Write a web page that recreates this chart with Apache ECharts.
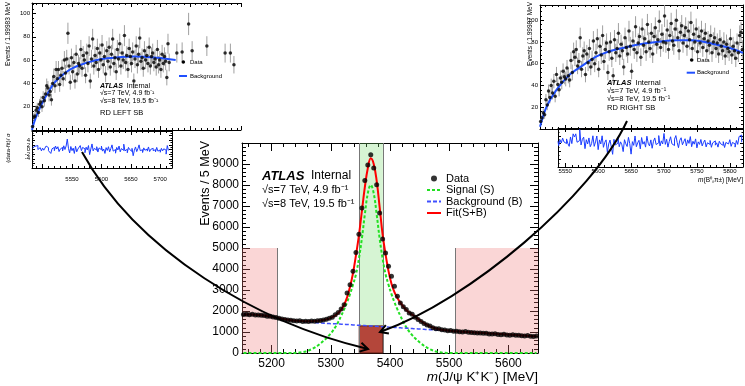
<!DOCTYPE html>
<html>
<head>
<meta charset="utf-8">
<script src="https://cdn.jsdelivr.net/npm/echarts@6.0.0/dist/echarts.min.js"></script>
<style>
html, body { margin: 0; padding: 0; background: #fff; }
#main { width: 745px; height: 386px; }
</style>
</head>
<body>
<div id="main"></div>
<script>
// ---- main fit, m(J/psi K+K-), 5 MeV bins ----
var massBinStart = 5152.5;
var massBinWidth = 5;
var massData = [
    1838, 1850, 1826, 1840, 1815, 1805, 1800, 1785, 1755, 1745, 1710, 1690,
    1650, 1625, 1600, 1575, 1560, 1530, 1520, 1535, 1505, 1515,
    1495, 1520, 1510, 1530, 1545, 1575, 1610, 1650, 1700, 1820,
    1930, 2090, 2300, 2860, 3250, 3890, 4790, 5650, 6900, 8220,
    8950, 9440, 8810, 8014, 6667, 5430, 4760, 4127, 3650, 3175,
    2700, 2380, 2200, 2070, 1910, 1840, 1700, 1590, 1500, 1410,
    1330, 1290, 1200, 1160, 1150, 1110, 1090, 1060, 1070, 1040,
    1030, 1010, 1000, 1020, 985, 980, 970, 950, 955, 935,
    940, 910, 900, 920, 880, 870, 895, 860, 850, 870,
    840, 845, 820, 815, 830, 800, 790, 810
];
var massFit = [
    1840, 1838, 1834, 1828, 1820, 1810, 1797, 1781, 1762, 1740, 1715, 1688, 1660,
    1632, 1605, 1582, 1562, 1545, 1533, 1525, 1519, 1515, 1513, 1515, 1520, 1530,
    1545, 1568, 1600, 1645, 1705, 1790, 1905, 2060, 2300, 2650, 3150, 3800, 4650,
    5600, 6750, 7900, 8800, 9270, 9000, 8200, 6950, 5650, 4700, 3900, 3300, 2900,
    2620, 2400, 2210, 2050, 1930, 1830, 1730, 1620, 1510, 1420, 1340, 1270, 1215,
    1170, 1135, 1108, 1088, 1072, 1056,
    1040, 1031, 1022, 1013, 1005, 996, 987, 978, 969, 961, 952, 943, 934, 925, 917,
    908, 899, 890, 881, 873, 864, 855, 846, 837, 829, 820, 811, 802, 793
];
var massSignal = [
    0, 0, 0, 0, 0, 0, 0, 0, 0, 0, 0, 0, 0, 0, 0, 0, 0,
    4, 10, 22, 42, 75, 120, 180, 255, 345, 450, 570, 700, 850, 1020, 1230, 1480,
    1770, 2080, 2420, 2800, 3250, 3750, 4500, 5450, 6600, 7600,
    8000,
    7600, 6600, 5450, 4500, 3750, 3250, 2800, 2420, 2080, 1770, 1480, 1230, 1020,
    850, 700, 570, 450, 345, 255, 180, 120, 75, 42, 22, 10, 4,
    0, 0, 0, 0, 0, 0, 0, 0, 0, 0, 0, 0, 0, 0, 0, 0, 0, 0, 0, 0, 0, 0, 0, 0, 0, 0, 0, 0, 0, 0
];
var massBkg = [
    1840, 1838, 1834, 1828, 1820, 1810, 1797, 1781, 1762, 1740, 1715, 1688, 1660,
    1632, 1605, 1580, 1557, 1537, 1520, 1505, 1492, 1480, 1469, 1459, 1449, 1439,
    1429, 1419, 1410, 1401, 1396,
    1392, 1383, 1374, 1366, 1357, 1348, 1339, 1330, 1321, 1313,
    1304, 1295, 1286, 1277, 1269, 1260, 1251, 1242, 1233, 1225,
    1216, 1207, 1198, 1189, 1181, 1172, 1163, 1154, 1145, 1137,
    1128, 1119, 1110, 1101, 1093, 1084, 1075, 1066, 1057, 1049,
    1040, 1031, 1022, 1013, 1005, 996, 987, 978, 969, 961,
    952, 943, 934, 925, 917, 908, 899, 890, 881, 873,
    864, 855, 846, 837, 829, 820, 811, 802, 793
];

// sideband and signal windows
var leftSB = [5150, 5210];
var rightSB = [5510, 5650];
var sbHeight = 5000;
var sigWindow = [5348, 5388];
var sigWindowBkg = 1290;

// ---- left sideband inset, 2 MeV bins ----
var leftBinStart = 5483;
var leftBinWidth = 2;
var leftData = [
    3, 11, 12, 17, 19, 15, 22, 24, 20, 28,
    25, 31, 38, 36, 30, 33, 26, 40, 46, 38,
    52, 44, 52, 39, 47, 53, 44, 60, 49, 61,
    83, 55, 41, 62, 50, 58, 42, 65, 48, 57,
    55, 69, 53, 64, 60, 47, 66, 57, 72, 42,
    61, 78, 55, 64, 58, 70, 52, 66, 60, 73,
    56, 63, 48, 68, 59, 71, 54, 65, 78, 57,
    62, 50, 69, 61, 74, 55, 66, 60, 81, 58,
    64, 52, 70, 63, 57, 67, 42, 61, 72, 56,
    65, 79, 59, 62, 53, 68, 60, 64, 57, 71,
    55, 63, 66, 58, 61, 54, 69, 56, 60, 52,
    65, 57, 63, 59, 45, 74, 58
];
var leftResid = [
    0.7, 1.2, 1.4, 1.8, 1.7, 0, 0.8, 0.8, -0.6, 0.6,
    -0.3, 0.6, 1.5, 0.8, -0.5, -0.3, -1.7, 0.3, 0.9, -0.5,
    1.5, 0.2, 1.2, -0.9, 0.2, 0.9, -0.6, 1.6, 0, 1.5,
    4.5, 0.5, -1.5, 1.3, -0.5, 0.6, -1.7, 1.4, -1.0, 0.2,
    -0.1, 1.7, -0.5, 0.9, 0.3, -1.4, 1.0, -0.2, 1.7, -2.2,
    0.2, 2.4, -0.6, 0.5, -0.3, 1.2, -1.1, 0.7, -0.1, 1.5,
    -0.7, 0.2, -1.7, 0.8, -0.4, 1.2, -1.0, 0.4, 2.0, -0.7,
    0, -1.6, 0.9, -0.2, 1.5, -1.0, 0.4, -0.4, 2.3, -0.6,
    0.1, -1.4, 0.9, 0, -0.8, 0.5, -2.7, -0.3, 1.1, -0.9,
    0.3, 2.0, -0.5, -0.1, -1.3, 0.7, -0.3, 0.2, -0.7, 1.1,
    -0.9, 0.1, 0.5, -0.5, -0.1, -1.0, 0.9, -0.7, -0.2, -1.2,
    0.5, -0.6, 0.3, -0.3, -2.0, 1.7, -0.4
];
var leftExtraX = [5728, 5737, 5748, 5754, 5779, 5810, 5819, 5825];
var leftExtraY = [66, 67, 91, 68, 72, 66, 66, 56];
var leftBkgX = [5482, 5484, 5488, 5495, 5502, 5510, 5519, 5530, 5541, 5552, 5564, 5580, 5598, 5625, 5655, 5694, 5726];
var leftBkgY = [0, 4, 10, 18.5, 25.8, 32.5, 40, 45.5, 50, 53.3, 55.8, 58.5, 60.7, 62.2, 63, 62, 60];

// ---- right sideband inset, 2 MeV bins ----
var rightBinStart = 5513;
var rightBinWidth = 2;
var rightData = [
    7, 10, 15, 13, 27, 22, 35, 29, 40, 33,
    44, 30, 50, 41, 36, 47, 43, 53, 48, 46,
    56, 49, 45, 63, 52, 71, 66, 73, 58, 62,
    84, 55, 67, 72, 50, 69, 61, 74, 57, 64,
    81, 60, 70, 83, 55, 76, 68, 86, 62, 73,
    79, 52, 71, 80, 65, 49, 82, 70, 74, 88,
    67, 78, 72, 57, 84, 75, 69, 90, 76, 53,
    81, 73, 94, 70, 79, 85, 66, 92, 77, 83,
    71, 96, 80, 74, 88, 69, 85, 93, 78, 82,
    99, 75, 87, 80, 104, 79, 91, 73, 86, 97,
    81, 77, 92, 100, 84, 72, 89, 95, 79, 86,
    93, 76, 90, 82, 98, 74, 87, 80, 92, 71,
    85, 79, 90, 75, 83, 88, 72, 81, 77, 86,
    70, 80, 84, 74, 79, 69, 82, 76, 72, 80,
    67, 78, 74, 71, 83, 68, 76, 72, 65, 79,
    70, 86, 89, 73
];
var rightResidStart = 5539;
var rightResid = [
    0.6, -0.5, 1.0, 0.15, 1.4, 0.45, 0, 1.2, 0, -0.7,
    1.7, 0, 2.5, 1.7, 2.5, 0.35, 0.8, 3.6, -0.35, 1.1,
    1.65, -1.3, 1.0, -0.1, 1.45, -0.8, 0, 2.0, -0.7, 0.45,
    1.95, -1.55, 0.95, -0.1, 2.0, -0.95, 0.3, 0.95, -2.3, -0.1,
    0.9, -0.85, -2.75, 1.1, -0.35, 0.1, 1.7, -0.8, 0.45, -0.3,
    -2.05, 1.0, -0.05, -0.75, 1.6, 0, -2.7, 0.5, -0.45, 1.95,
    -0.8, 0.2, 0.85, -1.35, 1.55, -0.15, 0.5, -0.9, 1.9, 0.1,
    -0.6, 0.95, -1.2, 0.6, 1.45, -0.25, 0.2, 2.05, -0.6, 0.7,
    -0.1, 2.6, -0.2, 1.1, -0.9, 0.55, 1.75, -0.05, -0.5, 1.15,
    2.05, 0.3, -1.05, 0.85, 1.5, -0.3, 0.5, 1.25, -0.6, 0.95,
    0.05, 1.8, -0.8, 0.6, -0.15, 1.2, -1.1, 0.45, -0.2, 1.05,
    -0.6, 0.3, 0.9, -0.85, 0.2, -0.2, 0.8, -0.95, 0.2, 0.7,
    -0.4, 0.2, -0.9, 0.6, -0.05, -0.45, 0.5, -1.0, 0.3, -0.1,
    -0.4, 1.0, -0.7, 0.3, -0.1, -0.9, 0.8, -0.2, 1.8, 2.2,
    0.35
];
var rightBkgX = [5512, 5522, 5537, 5557, 5578, 5598, 5623, 5648, 5673, 5698, 5720, 5739, 5760, 5779, 5800, 5820];
var rightBkgY = [2, 20.6, 36, 50, 59, 66.8, 72.4, 76, 78.8, 80.7, 81.5, 81.6, 80.3, 77.6, 74.5, 70];

var font = 'Liberation Sans, Arial, sans-serif';

function binned(start, width, ys) {
    var out = [];
    for (var i = 0; i < ys.length; i++) out.push([start + i * width, ys[i]]);
    return out;
}
function zip(xs, ys) {
    var out = [];
    for (var i = 0; i < xs.length; i++) out.push([xs[i], ys[i]]);
    return out;
}

// ROOT style frame axis: ticks inside, no grid lines
function frameAxis(gridIndex, position, min, max, step, tickLen, label, minorSplit) {
    return {
        type: 'value', gridIndex: gridIndex, position: position,
        min: min, max: max, minInterval: step, maxInterval: step,
        axisLine: { show: true, onZero: false, lineStyle: { color: '#000', width: 1 } },
        axisTick: { show: true, inside: true, length: tickLen, lineStyle: { color: '#000', width: 1 } },
        minorTick: { show: true, splitNumber: minorSplit || 5, length: tickLen / 2, lineStyle: { color: '#000', width: 1 } },
        splitLine: { show: false },
        axisLabel: label || { show: false }
    };
}
function labels(size, margin, keep) {
    return {
        show: true, fontSize: size, fontFamily: font, color: '#000', margin: margin,
        formatter: function (v) { return keep(v) ? String(v) : ''; }
    };
}

function errorBars(params, api) {
    var x = api.value(0), y = api.value(1), e = Math.sqrt(y);
    var p0 = api.coord([x, y - e]), p1 = api.coord([x, y + e]);
    return {
        type: 'line',
        shape: { x1: p0[0], y1: p0[1], x2: p1[0], y2: p1[1] },
        style: { stroke: '#a0a0a0', lineWidth: 1 }
    };
}

var leftPts = binned(leftBinStart, leftBinWidth, leftData).concat(zip(leftExtraX, leftExtraY));
var rightPts = binned(rightBinStart, rightBinWidth, rightData);

var txt = function (x, y, text, size, extra) {
    var style = { text: text, x: 0, y: 0, fill: '#000', fontSize: size, fontFamily: font, align: 'left', verticalAlign: 'middle' };
    for (var k in (extra || {})) style[k] = extra[k];
    return { type: 'text', x: x, y: y, z: 50, style: style };
};
var vtxt = function (x, y, text, size, align) {
    return { type: 'text', x: x, y: y, rotation: Math.PI / 2, z: 50,
        style: { text: text, fill: '#000', fontSize: size, fontFamily: font, align: align, verticalAlign: 'middle' } };
};
var noMark = { opacity: 0 };

var chart = echarts.init(document.getElementById('main'));
var option = {
    animation: false,
    backgroundColor: '#fff',
    grid: [
        { left: 242, top: 143, width: 296, height: 210, outerBoundsMode: 'none', containLabel: false },
        { left: 32, top: 3, width: 209, height: 127, outerBoundsMode: 'none', containLabel: false },
        { left: 32, top: 131, width: 140, height: 37, outerBoundsMode: 'none', containLabel: false },
        { left: 540, top: 5, width: 203, height: 124, outerBoundsMode: 'none', containLabel: false },
        { left: 558, top: 128, width: 185, height: 39, outerBoundsMode: 'none', containLabel: false }
    ],
    xAxis: [
        frameAxis(0, 'bottom', 5150, 5650, 100, 8, labels(12, 5, function (v) { return v % 100 === 0; })),
        frameAxis(0, 'top', 5150, 5650, 100, 8),
        frameAxis(1, 'bottom', 5482, 5837, 50, 4),
        frameAxis(1, 'top', 5482, 5837, 50, 4),
        frameAxis(2, 'bottom', 5482, 5720, 50, 4, labels(6, 8, function (v) { return v % 50 === 0 && v >= 5550; })),
        frameAxis(2, 'top', 5482, 5720, 50, 4),
        frameAxis(3, 'bottom', 5512, 5820, 50, 4),
        frameAxis(3, 'top', 5512, 5820, 50, 4),
        frameAxis(4, 'bottom', 5539, 5820, 50, 4, labels(6, 1, function (v) { return v % 50 === 0; })),
        frameAxis(4, 'top', 5539, 5820, 50, 4)
    ],
    yAxis: [
        frameAxis(0, 'left', 0, 10000, 1000, 8, labels(12, 3, function (v) { return v < 10000; })),
        frameAxis(0, 'right', 0, 10000, 1000, 8),
        frameAxis(1, 'left', 0, 109, 20, 4, labels(6, 2, function (v) { return v > 0 && v % 20 === 0; })),
        frameAxis(2, 'left', -8, 8, 2, 3, labels(6, 2, function (v) { return Math.abs(v) <= 4; }), 2),
        frameAxis(2, 'right', -8, 8, 2, 3, null, 2),
        frameAxis(3, 'left', 0, 114, 20, 4, labels(6, 2, function (v) { return v > 0 && v % 20 === 0; })),
        frameAxis(3, 'right', 0, 114, 20, 4),
        frameAxis(4, 'left', -6, 4, 2, 3, null, 2),
        frameAxis(4, 'right', -6, 4, 2, 3, null, 2)
    ],
    legend: {
        data: [
            { name: 'Data' },
            { name: 'Signal (S)', itemStyle: noMark },
            { name: 'Background (B)', itemStyle: noMark },
            { name: 'Fit(S+B)', itemStyle: noMark }
        ],
        orient: 'vertical', left: 421, top: 168,
        itemWidth: 14, itemHeight: 6, itemGap: 0.5,
        selectedMode: false,
        textStyle: { fontSize: 11, fontFamily: font, color: '#000', lineHeight: 11 }
    },
    series: [
        {
            name: 'regions', type: 'line', xAxisIndex: 0, yAxisIndex: 0, data: [], silent: true,
            markArea: {
                silent: true,
                data: [
                    [{ xAxis: sigWindow[0], yAxis: 0, itemStyle: { color: 'rgba(120,220,110,0.3)' } }, { xAxis: sigWindow[1], yAxis: 10000 }],
                    [{ xAxis: leftSB[0], yAxis: 0, itemStyle: { color: 'rgba(240,120,120,0.3)' } }, { xAxis: leftSB[1], yAxis: sbHeight }],
                    [{ xAxis: rightSB[0], yAxis: 0, itemStyle: { color: 'rgba(240,120,120,0.3)' } }, { xAxis: rightSB[1], yAxis: sbHeight }],
                    [{ xAxis: sigWindow[0], yAxis: 0, itemStyle: { color: '#b4463a', borderColor: '#5a1a12', borderWidth: 1 } }, { xAxis: sigWindow[1], yAxis: sigWindowBkg }]
                ]
            },
            markLine: {
                silent: true, symbol: 'none', z: 2,
                label: { show: false },
                lineStyle: { color: '#777', width: 1, type: 'solid' },
                data: [
                    [{ coord: [leftSB[1], 0] }, { coord: [leftSB[1], sbHeight] }],
                    [{ coord: [rightSB[0], 0] }, { coord: [rightSB[0], sbHeight] }],
                    [{ coord: [sigWindow[0], 0] }, { coord: [sigWindow[0], 10000] }],
                    [{ coord: [sigWindow[1], 0] }, { coord: [sigWindow[1], 10000] }]
                ]
            }
        },
        {
            name: 'Signal (S)', type: 'line', xAxisIndex: 0, yAxisIndex: 0, z: 3,
            data: binned(massBinStart, massBinWidth, massSignal),
            symbol: 'none', smooth: 0.4, color: '#22e022',
            lineStyle: { color: '#22e022', width: 2, type: [3, 2] }
        },
        {
            name: 'Background (B)', type: 'line', xAxisIndex: 0, yAxisIndex: 0, z: 3,
            data: binned(massBinStart, massBinWidth, massBkg),
            symbol: 'none', smooth: 0.4, color: '#4050ff',
            lineStyle: { color: '#4050ff', width: 1.5, type: [4, 2] }
        },
        {
            name: 'Fit(S+B)', type: 'line', xAxisIndex: 0, yAxisIndex: 0, z: 4,
            data: binned(massBinStart, massBinWidth, massFit),
            symbol: 'none', smooth: 0.4, color: '#ff0000',
            lineStyle: { color: '#ff0000', width: 2 }
        },
        {
            name: 'Data', type: 'scatter', xAxisIndex: 0, yAxisIndex: 0, z: 5,
            data: binned(massBinStart, massBinWidth, massData),
            symbol: 'circle', symbolSize: 5, color: '#000',
            itemStyle: { color: '#000' }
        },

        // left inset
        {
            name: 'leftErr', type: 'custom', xAxisIndex: 2, yAxisIndex: 2, z: 3, clip: true,
            renderItem: errorBars, data: leftPts
        },
        {
            name: 'leftData', type: 'scatter', xAxisIndex: 2, yAxisIndex: 2, z: 5,
            data: leftPts, symbol: 'circle', symbolSize: 3.5, itemStyle: { color: '#000' }
        },
        {
            name: 'leftBkg', type: 'line', xAxisIndex: 2, yAxisIndex: 2, z: 4,
            data: zip(leftBkgX, leftBkgY), symbol: 'none', smooth: 0.3,
            lineStyle: { color: '#2050ff', width: 2 }
        },
        {
            name: 'leftResid', type: 'line', xAxisIndex: 4, yAxisIndex: 3, z: 4,
            data: binned(leftBinStart, leftBinWidth, leftResid), symbol: 'none', step: 'middle',
            lineStyle: { color: '#1a3cff', width: 1 }
        },

        // right inset
        {
            name: 'rightErr', type: 'custom', xAxisIndex: 6, yAxisIndex: 5, z: 3, clip: true,
            renderItem: errorBars, data: rightPts
        },
        {
            name: 'rightData', type: 'scatter', xAxisIndex: 6, yAxisIndex: 5, z: 5,
            data: rightPts, symbol: 'circle', symbolSize: 3.5, itemStyle: { color: '#000' }
        },
        {
            name: 'rightBkg', type: 'line', xAxisIndex: 6, yAxisIndex: 5, z: 4,
            data: zip(rightBkgX, rightBkgY), symbol: 'none', smooth: 0.3,
            lineStyle: { color: '#2050ff', width: 2 }
        },
        {
            name: 'rightResid', type: 'line', xAxisIndex: 8, yAxisIndex: 7, z: 4,
            data: binned(rightResidStart, rightBinWidth, rightResid), symbol: 'none', step: 'middle',
            lineStyle: { color: '#1a3cff', width: 1 }
        }
    ],
    graphic: [
        // main panel text
        txt(262, 176, '{a|ATLAS}  Internal', 12, { rich: { a: { fontWeight: 'bold', fontStyle: 'italic', fontSize: 13, fontFamily: font } } }),
        txt(262, 190, '\u221As=7 TeV, 4.9 fb\u207B\u00B9', 11),
        txt(262, 203.5, '\u221As=8 TeV, 19.5 fb\u207B\u00B9', 11),
        vtxt(206, 141, 'Events / 5 MeV', 12.5, 'right'),
        txt(538, 377, '{i|m}(J/\u03C8 K\u207AK\u207B) [MeV]', 13.5, {
            align: 'right',
            rich: { i: { fontStyle: 'italic', fontSize: 13.5, fontFamily: font } }
        }),

        // left inset text
        vtxt(8, 2, 'Events / 1.99983 MeV', 6.5, 'right'),
        vtxt(8, 148, '(data-fit)/ \u03C3', 6, 'center'),
        txt(100, 86, '{a|ATLAS}  Internal', 7, { rich: { a: { fontWeight: 'bold', fontStyle: 'italic', fontSize: 7, fontFamily: font } } }),
        txt(100, 93.5, '\u221As=7 TeV, 4.9 fb\u207B\u00B9', 7),
        txt(100, 101, '\u221As=8 TeV, 19.5 fb\u207B\u00B9', 7),
        txt(100, 112.5, 'RD LEFT SB', 7.5),
        { type: 'circle', z: 50, shape: { cx: 183.3, cy: 62, r: 1.8 }, style: { fill: '#000' } },
        txt(190, 62, 'Data', 6),
        { type: 'line', z: 50, shape: { x1: 179, y1: 76, x2: 187, y2: 76 }, style: { stroke: '#2050ff', lineWidth: 2 } },
        txt(190, 76, 'Background', 6),

        // right inset text
        vtxt(530, 2, 'Events / 1.99987 MeV', 6.5, 'right'),
        txt(607, 82.7, '{a|ATLAS}  Internal', 7.5, { rich: { a: { fontWeight: 'bold', fontStyle: 'italic', fontSize: 7.5, fontFamily: font } } }),
        txt(607, 90.7, '\u221As=7 TeV, 4.9 fb\u207B\u00B9', 7.5),
        txt(607, 98.7, '\u221As=8 TeV, 19.5 fb\u207B\u00B9', 7.5),
        txt(607, 108.3, 'RD RIGHT SB', 7.5),
        { type: 'circle', z: 50, shape: { cx: 691.7, cy: 60, r: 1.8 }, style: { fill: '#000' } },
        txt(697, 60, 'Data', 6),
        { type: 'line', z: 50, shape: { x1: 686.7, y1: 72.7, x2: 695, y2: 72.7 }, style: { stroke: '#2050ff', lineWidth: 2 } },
        txt(697, 72.7, 'Background', 6),
        txt(743, 180, '{i|m}(B\u2070\u209B\u03C0\u00B1) [MeV]', 6.5, {
            align: 'right',
            rich: { i: { fontStyle: 'italic', fontSize: 6.5, fontFamily: font } }
        }),

        // arrows from the sideband fits into the signal window
        { type: 'bezierCurve', z: 60,
          shape: { x1: 82, y1: 152, cpx1: 137, cpy1: 252, cpx2: 258, cpy2: 323, x2: 368, y2: 349 },
          style: { stroke: '#000', lineWidth: 2, fill: null } },
        { type: 'polyline', z: 60, shape: { points: [[361.5, 342.8], [368, 349], [359.4, 351.6]] },
          style: { stroke: '#000', lineWidth: 2, fill: null } },
        { type: 'bezierCurve', z: 60,
          shape: { x1: 627, y1: 121, cpx1: 592, cpy1: 196, cpx2: 470, cpy2: 300, x2: 380, y2: 332 },
          style: { stroke: '#000', lineWidth: 2, fill: null } },
        { type: 'polyline', z: 60, shape: { points: [[385.8, 325.1], [380, 332], [388.9, 333.6]] },
          style: { stroke: '#000', lineWidth: 2, fill: null } }
    ]
};
chart.setOption(option);

window.onresize = chart.resize;
</script>
</body>
</html>
